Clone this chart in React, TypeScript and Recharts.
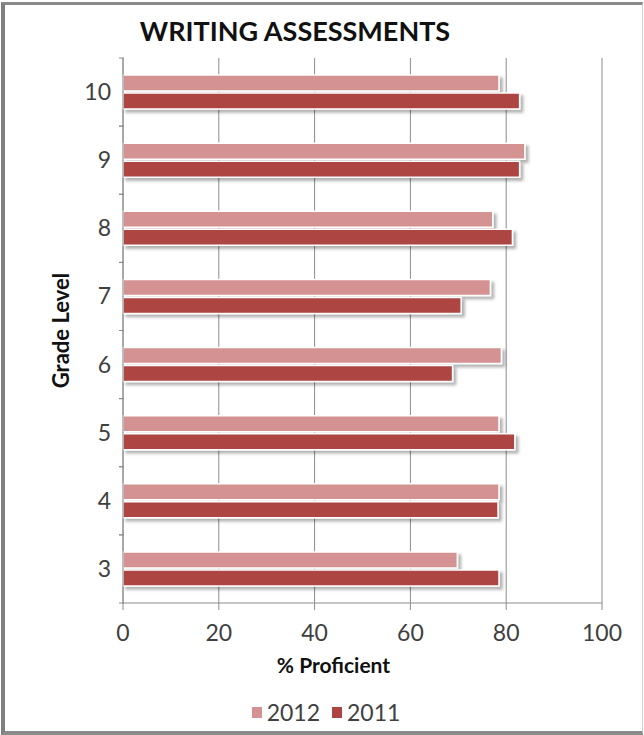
import React from 'react';
import { BarChart, Bar, XAxis, YAxis, CartesianGrid } from 'recharts';

const grades = ['3', '4', '5', '6', '7', '8', '9', '10'];
const values2012 = [69.8, 78.5, 78.5, 79, 76.7, 77.2, 83.9, 78.5];
const values2011 = [78.5, 78.3, 81.8, 68.8, 70.6, 81.3, 82.8, 82.8];
const xTicks = [0, 20, 40, 60, 80, 100];

const series = [
  { key: 'y2012', name: '2012', color: '#D49292' },
  { key: 'y2011', name: '2011', color: '#AD4442' },
];

const data = grades.map((g, i) => ({ grade: g, y2012: values2012[i], y2011: values2011[i] }));

const font = 'Lato, "Open Sans", sans-serif';
const textColor = '#404040';
const axisColor = '#8c8c8c';

// category tick: label in the band centre, tick marks on the band edges (like Excel)
const GradeTick = (props: any) => {
  const { x, y, payload } = props;
  const half = payload.offset || 0;
  return (
    <g>
      <line x1={x + 4} x2={x + 9} y1={y - half} y2={y - half} stroke={axisColor} />
      <line x1={x + 4} x2={x + 9} y1={y + half} y2={y + half} stroke={axisColor} />
      <text x={x - 4} y={y} dy="0.35em" textAnchor="end" fill={textColor} fontSize={23} fontFamily={font}>
        {payload.value}
      </text>
    </g>
  );
};

const App = () => {
  return (
    <div style={{ position: 'absolute', left: 0, top: 0, width: 644, height: 735, background: '#fff' }}>
      <div
        style={{
          position: 'absolute', left: 1, top: 2, width: 642, height: 733, boxSizing: 'border-box',
          borderLeft: '4px solid #7f7f7f', borderTop: '3px solid #8a8a8a', borderBottom: '4px solid #8a8a8a',
          borderRight: '1px solid #d0d0d0',
        }}
      />
      <div
        style={{
          position: 'absolute', left: 0, width: 590, top: 14, textAlign: 'center', fontFamily: font,
          fontWeight: 700, fontSize: 27, color: '#111',
        }}
      >
        WRITING ASSESSMENTS
      </div>
      <div style={{ position: 'absolute', left: 0, top: 0 }}>
        <BarChart
          width={644}
          height={735}
          data={data}
          layout="vertical"
          margin={{ top: 58, right: 42, bottom: 0, left: 0 }}
          barCategoryGap="25%"
          barGap={2}
        >
          <defs>
            <filter id="barShadow" x="-5%" y="-30%" width="115%" height="180%">
              <feDropShadow dx="3" dy="3" stdDeviation="1.5" floodColor="#000" floodOpacity="0.3" />
            </filter>
          </defs>
          <CartesianGrid horizontal={false} stroke={axisColor} strokeWidth={1} />
          <XAxis
            type="number"
            domain={[0, 100]}
            ticks={xTicks}
            height={132}
            stroke={axisColor}
            tickSize={7}
            tickMargin={15}
            tick={{ fill: textColor, fontSize: 23, fontFamily: font }}
            label={{
              value: '% Proficient', position: 'insideTop', offset: 55, dx: -29,
              style: { fill: '#111', fontWeight: 700, fontSize: 21, fontFamily: font },
            }}
          />
          <YAxis
            type="category"
            dataKey="grade"
            reversed
            width={123}
            stroke={axisColor}
            tickLine={false}
            tick={<GradeTick />}
            label={{
              value: 'Grade Level', angle: -90, position: 'insideLeft', offset: 61,
              style: { textAnchor: 'middle', fill: '#111', fontWeight: 700, fontSize: 22, fontFamily: font },
            }}
          />
          {series.map((s) => (
            <Bar
              key={s.key}
              dataKey={s.key}
              name={s.name}
              fill={s.color}
              stroke="#fff"
              strokeWidth={1.5}
              filter="url(#barShadow)"
              isAnimationActive={false}
            />
          ))}
        </BarChart>
      </div>
      <div
        style={{
          position: 'absolute', left: 0, width: 652, top: 698, display: 'flex', justifyContent: 'center',
          gap: 12, fontFamily: font, fontSize: 23, color: textColor,
        }}
      >
        {series.map((s) => (
          <span key={s.key} style={{ display: 'flex', alignItems: 'center', gap: 5 }}>
            <span style={{ width: 10, height: 11, background: s.color, display: 'inline-block' }} />
            {s.name}
          </span>
        ))}
      </div>
    </div>
  );
};

export default App;
